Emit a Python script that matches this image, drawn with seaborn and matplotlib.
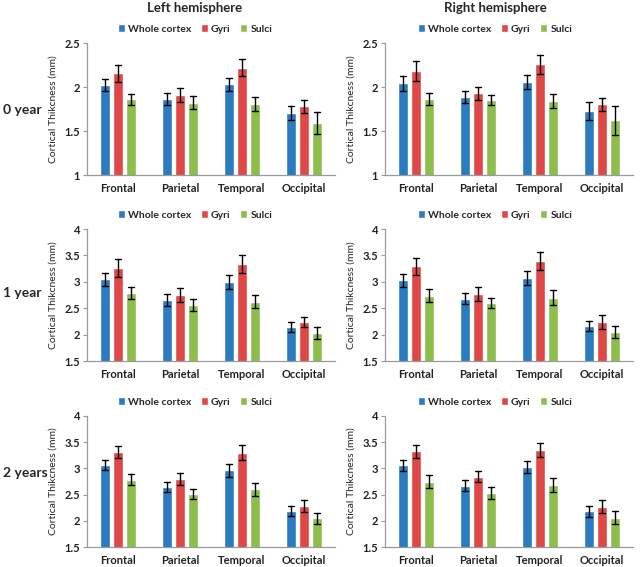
# =========================
# IMPORT LIBRARIES
# =========================

import pandas as pd
import matplotlib
matplotlib.use("Agg")
import matplotlib.pyplot as plt
import seaborn as sns

# =========================
# DATA
# =========================

regions = ["Frontal", "Parietal", "Temporal", "Occipital"]
tissues = ["Whole cortex", "Gyri", "Sulci"]
ages = ["0 year", "1 year", "2 years"]
hemispheres = ["Left hemisphere", "Right hemisphere"]

# rows = tissue (Whole cortex, Gyri, Sulci), columns = region
left_0_mean = [[2.02, 1.86, 2.03, 1.70], [2.155, 1.91, 2.22, 1.78], [1.86, 1.82, 1.81, 1.59]]
left_0_err = [[0.07, 0.07, 0.075, 0.08], [0.095, 0.08, 0.10, 0.07], [0.065, 0.075, 0.08, 0.125]]
right_0_mean = [[2.04, 1.885, 2.06, 1.73], [2.18, 1.93, 2.257, 1.805], [1.865, 1.85, 1.84, 1.62]]
right_0_err = [[0.08, 0.065, 0.08, 0.10], [0.11, 0.075, 0.11, 0.075], [0.07, 0.06, 0.08, 0.165]]

left_1_mean = [[3.05, 2.65, 2.99, 2.15], [3.27, 2.75, 3.34, 2.24], [2.79, 2.56, 2.62, 2.03]]
left_1_err = [[0.125, 0.115, 0.13, 0.095], [0.17, 0.13, 0.17, 0.10], [0.11, 0.11, 0.125, 0.11]]
right_1_mean = [[3.03, 2.68, 3.07, 2.165], [3.29, 2.77, 3.40, 2.24], [2.74, 2.60, 2.70, 2.05]]
right_1_err = [[0.125, 0.10, 0.13, 0.10], [0.17, 0.125, 0.17, 0.125], [0.12, 0.10, 0.14, 0.115]]

left_2_mean = [[3.06, 2.65, 2.96, 2.18], [3.31, 2.80, 3.30, 2.28], [2.785, 2.51, 2.60, 2.045]]
left_2_err = [[0.10, 0.10, 0.12, 0.095], [0.11, 0.11, 0.14, 0.11], [0.11, 0.10, 0.125, 0.11]]
right_2_mean = [[3.06, 2.67, 3.03, 2.18], [3.33, 2.84, 3.35, 2.27], [2.75, 2.53, 2.68, 2.06]]
right_2_err = [[0.105, 0.11, 0.12, 0.105], [0.125, 0.105, 0.14, 0.12], [0.115, 0.115, 0.13, 0.12]]

panels = [
    [(left_0_mean, left_0_err), (right_0_mean, right_0_err)],
    [(left_1_mean, left_1_err), (right_1_mean, right_1_err)],
    [(left_2_mean, left_2_err), (right_2_mean, right_2_err)],
]

y_limits = [(1, 2.5), (1.5, 4), (1.5, 4)]

colors = ["#2B7BC0", "#E04848", "#8DBE4C"]

# =========================
# STYLE
# =========================

sns.set_style("white")
plt.rcParams["font.family"] = ["Lato", "DejaVu Sans"]

fig = plt.figure(figsize=(6.4, 5.67), dpi=100)

axes_left = [87 / 640, 385 / 640]
axes_width = 248 / 640
axes_bottom = [1 - 175 / 567, 1 - 361 / 567, 1 - 547 / 567]
axes_height = [132 / 567, 132 / 567, 131 / 567]

legend_y = [1 - 29 / 567, 1 - 215 / 567, 1 - 402 / 567]
label_y = [1 - 110 / 567, 1 - 293 / 567, 1 - 473 / 567]
title_x = [195 / 640, 495 / 640]


def make_frame(mean, err):
    # two points per bar: mean - err and mean + err, so the bar is the mean
    rows = []
    for t, tissue in enumerate(tissues):
        for r, region in enumerate(regions):
            rows.append((region, tissue, mean[t][r] - err[t][r]))
            rows.append((region, tissue, mean[t][r] + err[t][r]))
    return pd.DataFrame(rows, columns=["region", "tissue", "value"])


# =========================
# DRAW PANELS
# =========================

for i in range(3):
    for j in range(2):
        mean, err = panels[i][j]
        df = make_frame(mean, err)

        ax = fig.add_axes([axes_left[j], axes_bottom[i], axes_width, axes_height[i]])

        sns.barplot(
            data=df,
            x="region",
            y="value",
            hue="tissue",
            order=regions,
            hue_order=tissues,
            palette=colors,
            width=0.63,
            gap=0.2,
            errorbar=lambda v: (v.min(), v.max()),
            capsize=0.3,
            err_kws={"color": "black", "linewidth": 1.0},
            saturation=1,
            ax=ax,
        )

        ax.set_ylim(*y_limits[i])
        ax.set_yticks([y_limits[i][0] + 0.5 * k for k in range(int((y_limits[i][1] - y_limits[i][0]) / 0.5) + 1)])
        ax.set_yticklabels([f"{t:g}" for t in ax.get_yticks()])

        ax.set_xlabel("")
        ax.set_ylabel("Cortical Thikcness (mm)", fontsize=7.5)
        ax.yaxis.set_label_coords(-0.117, 0.5)

        for side in ["top", "right"]:
            ax.spines[side].set_visible(False)
        for side in ["left", "bottom"]:
            ax.spines[side].set_color("#9a9a9a")
            ax.spines[side].set_linewidth(0.9)

        ax.tick_params(axis="y", left=True, length=3, color="#9a9a9a", labelsize=8, pad=2)
        ax.tick_params(axis="x", bottom=False, labelsize=8, pad=2)
        for lab in ax.get_xticklabels() + ax.get_yticklabels():
            lab.set_fontweight("bold")
            lab.set_color("#222222")

        handles, labels = ax.get_legend_handles_labels()
        ax.legend(
            handles,
            labels,
            loc="center",
            bbox_to_anchor=(title_x[j], legend_y[i]),
            bbox_transform=fig.transFigure,
            ncol=3,
            frameon=False,
            handlelength=0.7,
            handleheight=0.7,
            handletextpad=0.3,
            columnspacing=0.9,
            borderpad=0,
            prop={"weight": "bold", "size": 7.5},
        )

# =========================
# TITLES AND ROW LABELS
# =========================

for j, name in enumerate(hemispheres):
    fig.text(title_x[j], 1 - 8 / 567, name, ha="center", va="center",
             fontsize=9.5, fontweight="bold")

for i, name in enumerate(ages):
    fig.text(3 / 640, label_y[i], name, ha="left", va="center",
             fontsize=10, fontweight="bold")

plt.savefig("out.png", dpi=100)
